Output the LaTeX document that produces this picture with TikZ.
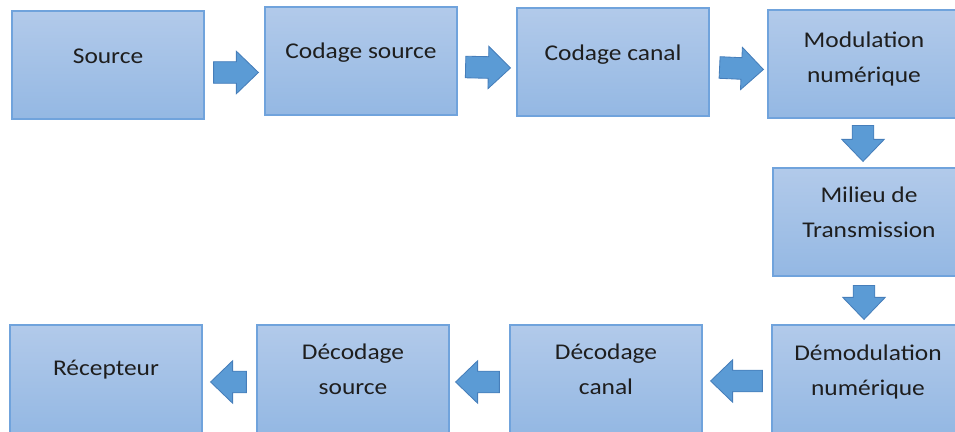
\documentclass[tikz,border=0pt]{standalone}
\usepackage{fontspec}
\setmainfont{Carlito}[FakeStretch=1.13]
\usetikzlibrary{calc, positioning}

\definecolor{boxtop}{RGB}{178,202,234}
\definecolor{boxbottom}{RGB}{148,184,227}
\definecolor{boxedge}{RGB}{112,163,220}
\definecolor{arrowblue}{RGB}{91,155,213}
\definecolor{arrowedge}{RGB}{70,126,186}
\definecolor{textgray}{RGB}{30,30,30}

\begin{document}
\begin{tikzpicture}[
    x=0.025cm, y=0.025cm,
    box/.style={rectangle, draw=boxedge, line width=0.8pt, top color=boxtop, bottom color=boxbottom, minimum width=4.8cm, minimum height=2.7cm, inner sep=0pt},
    txt/.style={align=center, text=textgray, font=\fontsize{16pt}{25pt}\selectfont, yshift=#1},
    txt/.default=0.21cm,
    fatarrow/.style={fill=arrowblue, draw=arrowedge, line width=0.6pt,
        to path={let \p1=(\tikztostart), \p2=(\tikztotarget), \p3=($(\p2)!0.55cm!(\p1)$) in
            ($(\p1)!0.27cm!90:(\p2)$) -- ($(\p3)!0.27cm!90:(\p2)$) -- ($(\p3)!0.53cm!90:(\p2)$)
            -- (\p2) -- ($(\p3)!0.53cm!-90:(\p2)$) -- ($(\p3)!0.27cm!-90:(\p2)$)
            -- ($(\p1)!0.27cm!-90:(\p2)$) -- cycle}}
]
    \useasboundingbox (0,0) rectangle (955,432);

    % Emission chain
    \node[box, label={[txt=0.21cm]center:Source}] (src) at (108,367) {};
    \node[box, label={[txt=0.22cm]center:Codage source}] (cs) at (361,371) {};
    \node[box, label={[txt=0.19cm]center:Codage canal}] (cc) at (613,370) {};
    \node[box, label={[txt=0.12cm]center:Modulation\\numérique}] (mod) at (864,368) {};

    % Channel
    \node[box, label={[txt=0.24cm]center:Milieu de\\Transmission}] (mil) at (869,210) {};

    % Reception chain
    \node[box, label={[txt=0.18cm]center:Démodulation\\numérique}] (dem) at (868,53) {};
    \node[box, label={[txt=0.24cm]center:Décodage\\canal}] (dc) at (606,53) {};
    \node[box, label={[txt=0.25cm]center:Décodage\\source}] (ds) at (353,53) {};
    \node[box, label={[txt=0.24cm]center:Récepteur}] (rec) at (106,53) {};

    % Arrows
    \draw[fatarrow] ([shift={(9,-7.5)}]src.east) to ([shift={(-6,-11.5)}]cs.west);
    \draw[fatarrow] ([shift={(8,-6)}]cs.east) to ([shift={(-6,-6)}]cc.west);
    \draw[fatarrow] ([shift={(10,-5.5)}]cc.east) to ([shift={(-4,-5.5)}]mod.west);
    \draw[fatarrow] ([shift={(-1,-7)}]mod.south) to ([shift={(-6,6)}]mil.north);
    \draw[fatarrow] ([shift={(-5,-9)}]mil.south) to ([shift={(-4,5)}]dem.north);
    \draw[fatarrow] ([shift={(-9,-2)}]dem.west) to ([shift={(8,-2)}]dc.east);
    \draw[fatarrow] ([shift={(-10,-3)}]dc.west) to ([shift={(6,-3)}]ds.east);
    \draw[fatarrow] ([shift={(-10,-3)}]ds.west) to ([shift={(8,-3)}]rec.east);
\end{tikzpicture}
\end{document}
